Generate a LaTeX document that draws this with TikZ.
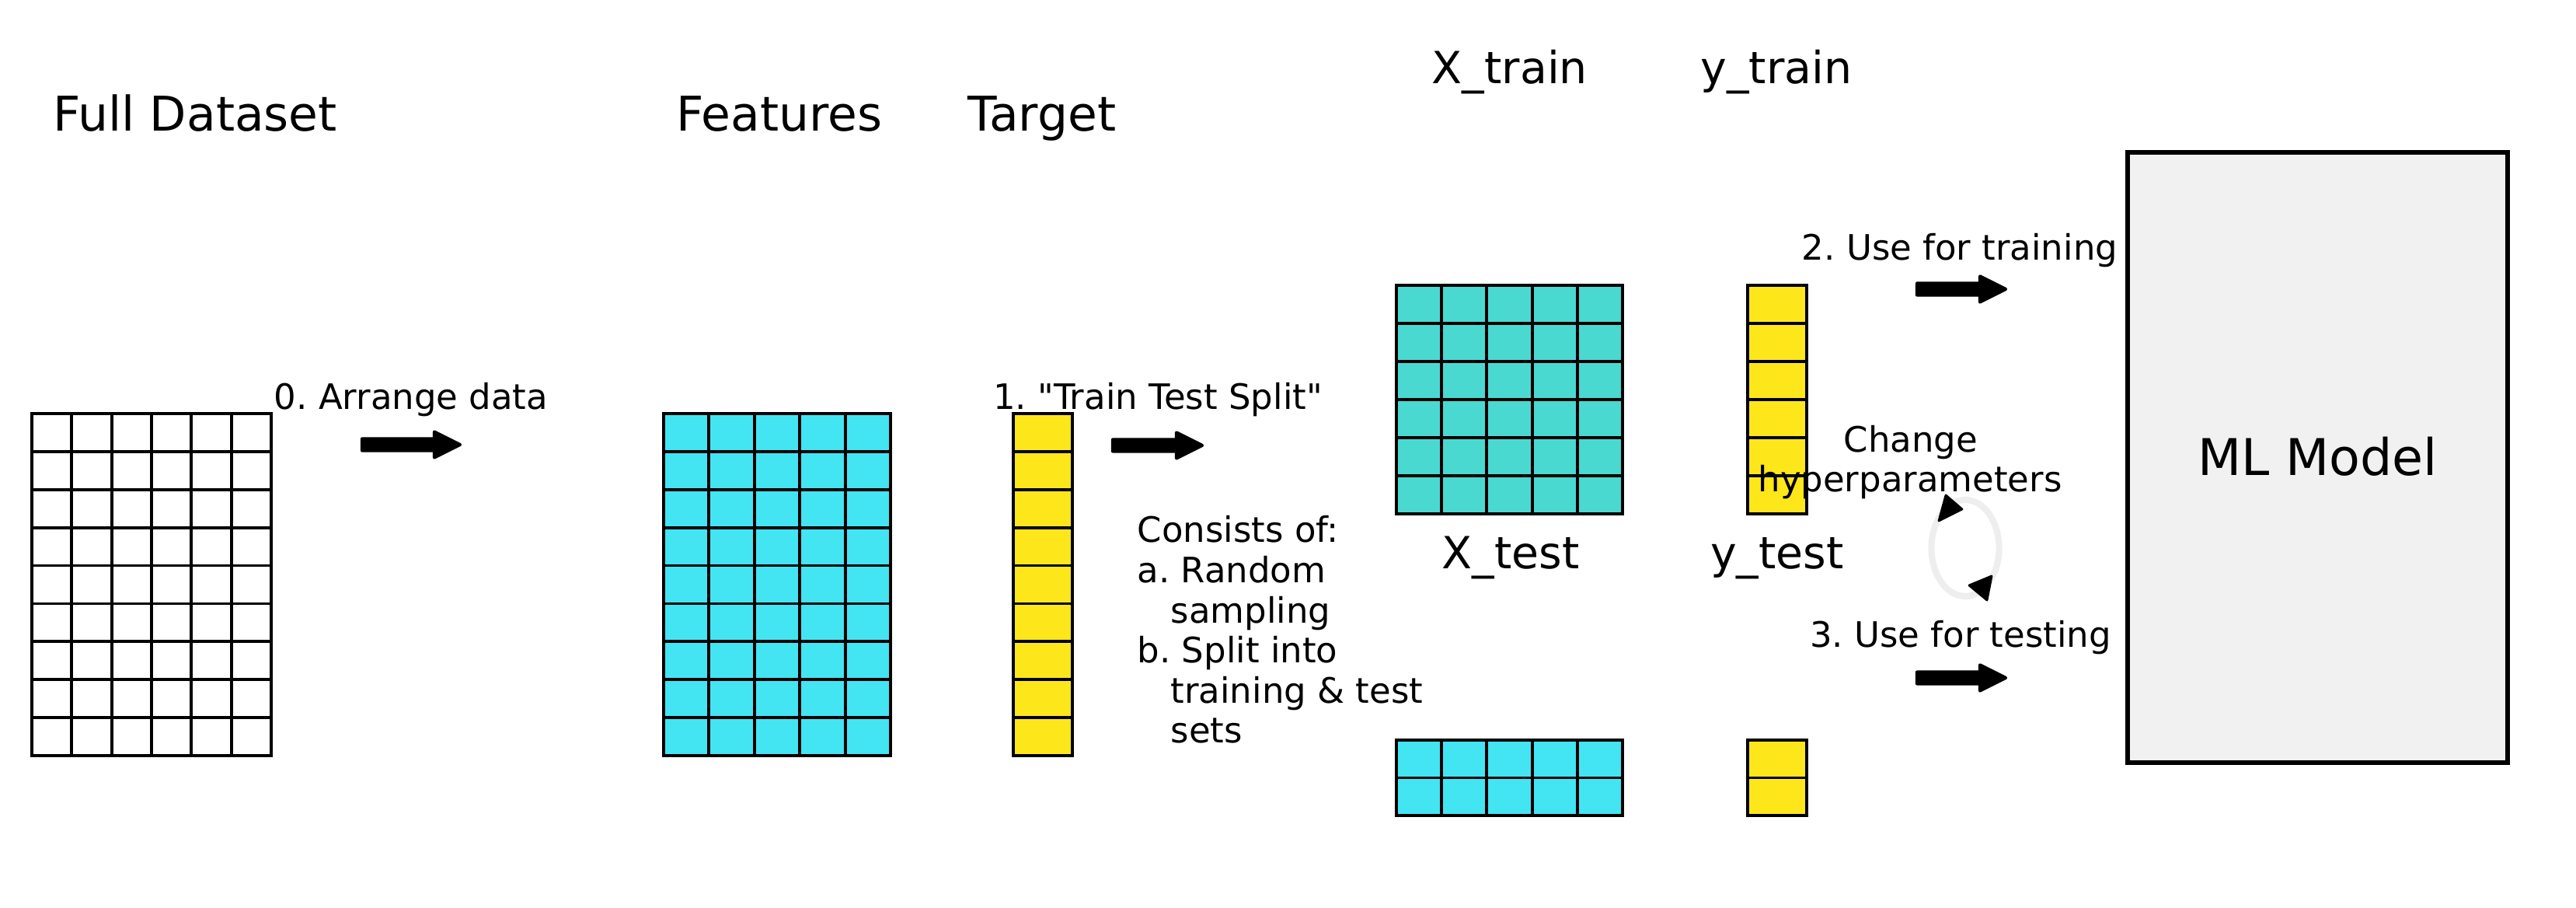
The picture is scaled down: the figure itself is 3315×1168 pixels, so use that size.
\documentclass[tikz,border=0pt]{standalone}
\usepackage{fontspec}
\setmainfont{DejaVu Sans}[Ligatures=TeXOff]
\usetikzlibrary{calc}
\frenchspacing
\definecolor{cyanf}{HTML}{43E5F2}
\definecolor{tealf}{HTML}{4AD9D0}
\definecolor{yellowf}{HTML}{FDE71A}
\definecolor{modelgray}{HTML}{F1F1F1}
\definecolor{loopgray}{HTML}{EEEEEE}
% x0,y0,x1,y1,cols,rows,fill colour
\newcommand\cellgrid[7]{%
  \fill[#7] (#1,#2) rectangle (#3,#4);
  \pgfmathsetmacro\cgw{(#3-#1)/#5}
  \pgfmathsetmacro\cgh{(#4-#2)/#6}
  \pgfmathtruncatemacro\cgc{#5-1}
  \pgfmathtruncatemacro\cgr{#6-1}
  \ifnum\cgc>0 \foreach \i in {1,...,\cgc}{\draw[gridline] ({#1+\i*\cgw},#2) -- ({#1+\i*\cgw},#4);}\fi
  \ifnum\cgr>0 \foreach \j in {1,...,\cgr}{\draw[gridline] (#1,{#2+\j*\cgh}) -- (#3,{#2+\j*\cgh});}\fi
  \draw[gridline] (#1,#2) rectangle (#3,#4);
}
% block arrow from coordinate #1 to coordinate #2 (horizontal)
\newcommand\blockarrow[2]{%
  \filldraw[blockarr] ($(#1)+(2,-7.5)$) -- ($(#2)+(-35,-7.5)$) -- ($(#2)+(-35,-16.5)$) -- ($(#2)+(-2,0)$)
    -- ($(#2)+(-35,16.5)$) -- ($(#2)+(-35,7.5)$) -- ($(#1)+(2,7.5)$) -- cycle;
}
\begin{document}
\begin{tikzpicture}[x=0.01cm,y=-0.01cm,
  gridline/.style={draw=black,line width=1.1pt},
  titletext/.style={anchor=base,inner sep=0pt,font=\fontsize{17.5}{21}\selectfont},
  splitlabel/.style={anchor=base,inner sep=0pt,font=\fontsize{16.2}{19}\selectfont},
  smalltext/.style={anchor=base,inner sep=0pt,font=\fontsize{12.8}{15}\selectfont},
  smallleft/.style={anchor=base west,inner sep=0pt,font=\fontsize{12.8}{15}\selectfont},
  blockarr/.style={fill=black,draw=black,line width=1.2pt,line join=round},
  modelbox/.style={draw=black,fill=modelgray,line width=1.6pt,inner sep=0pt,
    minimum width=4.89cm,minimum height=7.85cm},
  modeltext/.style={anchor=base,inner sep=0pt,font=\fontsize{18.5}{22}\selectfont},
  loop/.style={draw=loopgray,line width=2.3pt},
  loophead/.style={fill=black,draw=black,line width=0.8pt,line join=round}]
\useasboundingbox (0,0) rectangle (3315,1168);
\fill[white] (0,0) rectangle (3315,1168);

% titles
\node[titletext] (tfull) at (251,169) {Full Dataset};
\node[titletext] (tfeat) at (1003,169) {Features};
\node[titletext] (ttarget) at (1341,169) {Target};
\node[splitlabel] (txtrain) at (1943,108) {X\_train};
\node[splitlabel] (tytrain) at (2286,108) {y\_train};
\node[splitlabel] (txtest) at (1944,732) {X\_test};
\node[splitlabel] (tytest) at (2287,732) {y\_test};

% grids
\cellgrid{41}{532}{349}{972}{6}{9}{white}
\cellgrid{854}{532}{1146}{972}{5}{9}{cyanf}
\cellgrid{1304}{532}{1380}{972}{1}{9}{yellowf}
\cellgrid{1797}{367}{2088}{661}{5}{6}{tealf}
\cellgrid{2249}{367}{2325}{661}{1}{6}{yellowf}
\cellgrid{1797}{952}{2088}{1049}{5}{2}{cyanf}
\cellgrid{2249}{952}{2325}{1049}{1}{2}{yellowf}

% step labels
\node[smalltext] (l0) at (529,527) {0. Arrange data};
\node[smalltext] (l1) at (1490,527) {1. "Train Test Split"};
\node[smalltext] (l2) at (2522,335) {2. Use for training};
\node[smalltext] (l3) at (2523,833) {3. Use for testing};
\node[smalltext] (lc1) at (2459,582) {Change};
\node[smalltext] (lc2) at (2458,633) {hyperparameters};

\node[smallleft] (c1) at (1463,698) {Consists of:};
\node[smallleft] (c2) at (1463,750) {a. Random};
\node[smallleft] (c3) at (1506,802) {sampling};
\node[smallleft] (c4) at (1463,853) {b. Split into};
\node[smallleft] (c5) at (1506,905) {training \& test};
\node[smallleft] (c6) at (1506,956) {sets};

% block arrows
\coordinate (a0s) at (464,572); \coordinate (a0e) at (594,572);
\coordinate (a1s) at (1430,573); \coordinate (a1e) at (1549,573);
\coordinate (a2s) at (2465,372); \coordinate (a2e) at (2583,372);
\coordinate (a3s) at (2465,872); \coordinate (a3e) at (2583,872);
\blockarrow{a0s}{a0e}
\blockarrow{a1s}{a1e}
\blockarrow{a2s}{a2e}
\blockarrow{a3s}{a3e}

% hyperparameter loop
\coordinate (loopc) at (2529,705);
\draw[loop] (loopc) ellipse [x radius=0.435cm, y radius=0.62cm];
\filldraw[loophead] (2504,637) -- (2525,655) -- (2495,670) -- cycle;
\filldraw[loophead] (2534,753) -- (2563,741) -- (2557,772) -- cycle;

% model
\node[modelbox] (model) at (2982.5,588.5) {};
\node[modeltext] (modellabel) at (2982.5,612) {ML Model};
\end{tikzpicture}
\end{document}
